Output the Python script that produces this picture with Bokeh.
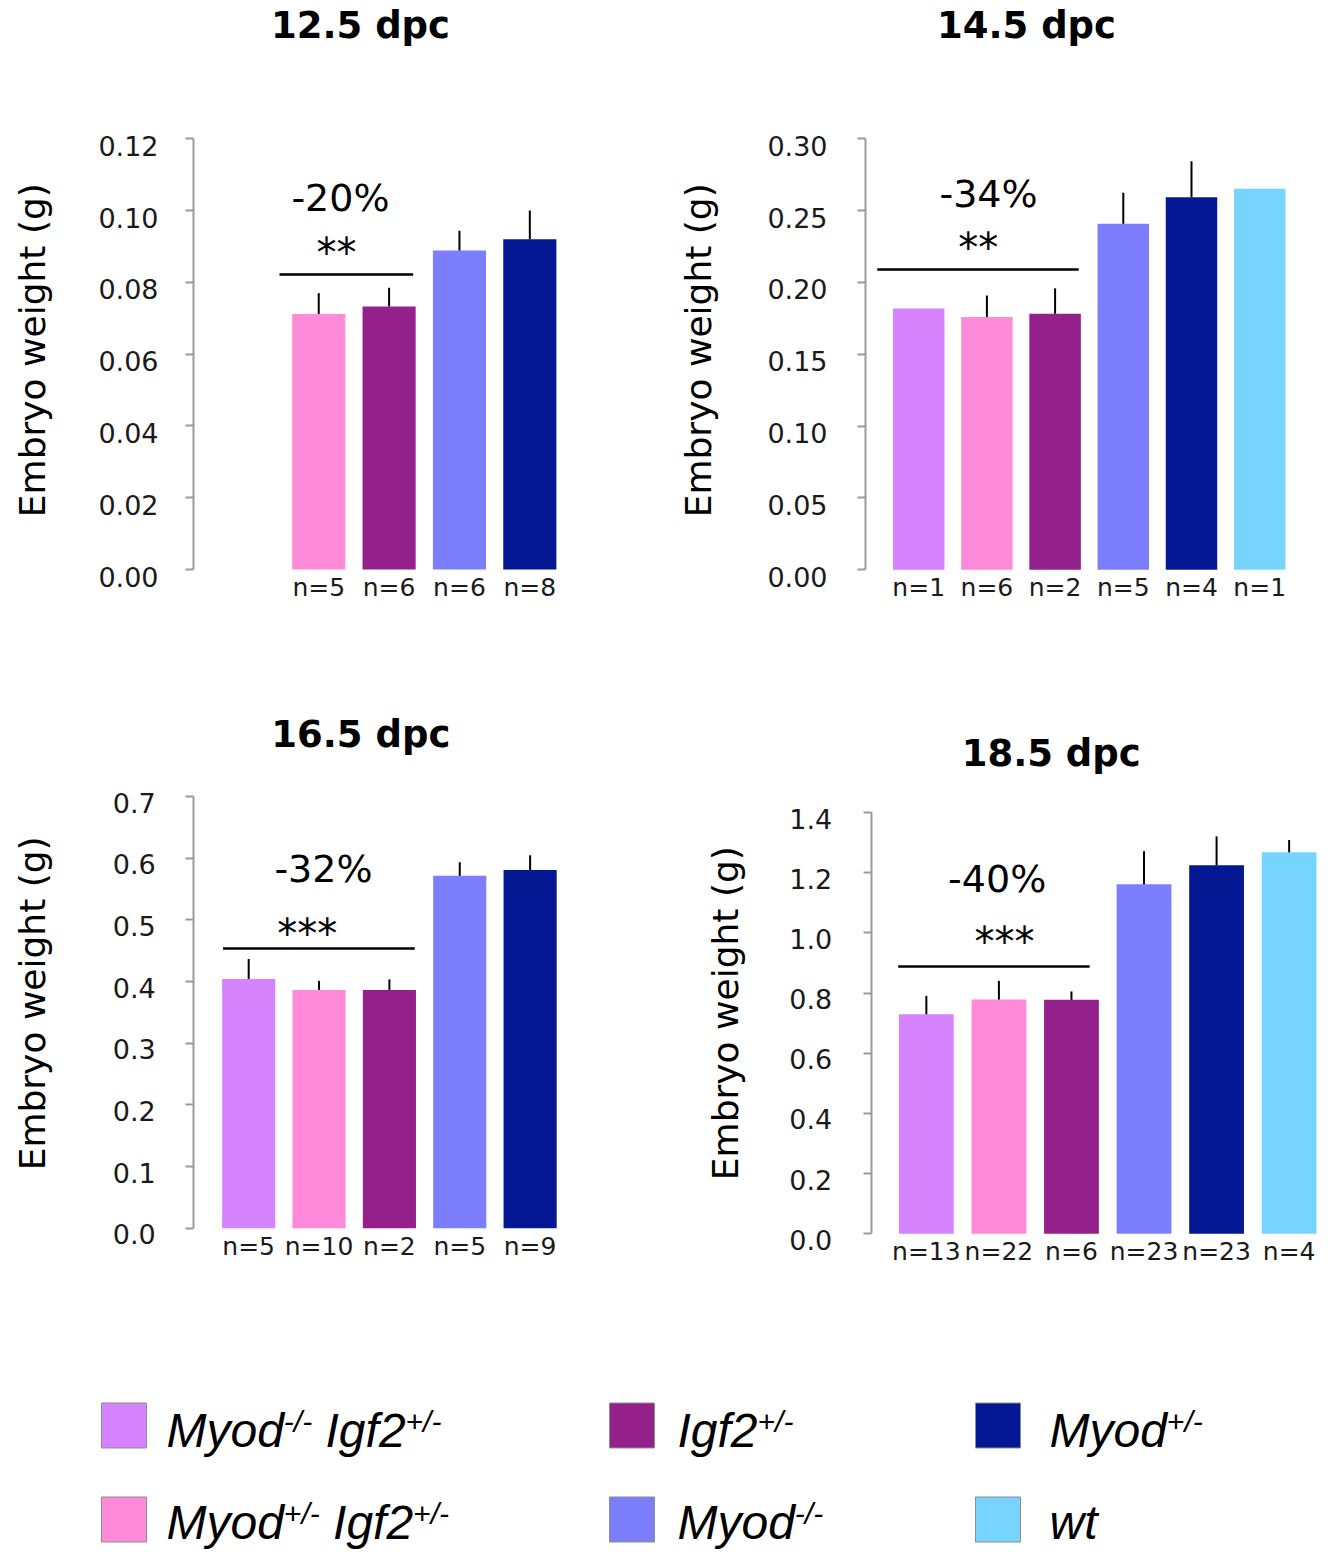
import math
import re
from bokeh.plotting import figure
from bokeh.models import ColumnDataSource, Range1d, LinearAxis, FixedTicker, Label, LabelSet
from bokeh.layouts import column, row
from bokeh.embed import file_html
from bokeh.resources import INLINE
from bokeh.core.properties import value

# ---------------- data ----------------
GENOTYPES = ["Myod-/- Igf2+/-", "Myod+/- Igf2+/-", "Igf2+/-", "Myod-/-", "Myod+/-", "wt"]
COLORS = ["#D584FE", "#FE8AD9", "#93208B", "#7C7EFE", "#041893", "#76D4FE"]
Y_LABEL = "Embryo weight (g)"

d125_title = "12.5 dpc"
d125_geno = [1, 2, 3, 4]
d125_mean = [0.0712, 0.0733, 0.0889, 0.0920]
d125_sem = [0.0058, 0.0052, 0.0055, 0.0080]
d125_n = ["n=5", "n=6", "n=6", "n=8"]
d125_ticks = [0.00, 0.02, 0.04, 0.06, 0.08, 0.10, 0.12]
d125_tick_labels = ["0.00", "0.02", "0.04", "0.06", "0.08", "0.10", "0.12"]
d125_pct = "-20%"
d125_sig = "**"

d145_title = "14.5 dpc"
d145_geno = [0, 1, 2, 3, 4, 5]
d145_mean = [0.1818, 0.1759, 0.1782, 0.2409, 0.2594, 0.2652]
d145_sem = [0.0, 0.0150, 0.0177, 0.0215, 0.0250, 0.0]
d145_n = ["n=1", "n=6", "n=2", "n=5", "n=4", "n=1"]
d145_ticks = [0.00, 0.05, 0.10, 0.15, 0.20, 0.25, 0.30]
d145_tick_labels = ["0.00", "0.05", "0.10", "0.15", "0.20", "0.25", "0.30"]
d145_pct = "-34%"
d145_sig = "**"

d165_title = "16.5 dpc"
d165_geno = [0, 1, 2, 3, 4]
d165_mean = [0.4042, 0.3864, 0.3864, 0.5714, 0.5807]
d165_sem = [0.0325, 0.0146, 0.0170, 0.0220, 0.0240]
d165_n = ["n=5", "n=10", "n=2", "n=5", "n=9"]
d165_ticks = [0.0, 0.1, 0.2, 0.3, 0.4, 0.5, 0.6, 0.7]
d165_tick_labels = ["0.0", "0.1", "0.2", "0.3", "0.4", "0.5", "0.6", "0.7"]
d165_pct = "-32%"
d165_sig = "***"

d185_title = "18.5 dpc"
d185_geno = [0, 1, 2, 3, 4, 5]
d185_mean = [0.7296, 0.7784, 0.7774, 1.1614, 1.2245, 1.2677]
d185_sem = [0.061, 0.062, 0.028, 0.110, 0.096, 0.041]
d185_n = ["n=13", "n=22", "n=6", "n=23", "n=23", "n=4"]
d185_ticks = [0.0, 0.2, 0.4, 0.6, 0.8, 1.0, 1.2, 1.4]
d185_tick_labels = ["0.0", "0.2", "0.4", "0.6", "0.8", "1.0", "1.2", "1.4"]
d185_pct = "-40%"
d185_sig = "***"

# ---------------- layout / style (pixels relative to each figure) ----------------
FONT = "DejaVu Sans"
LAY = {
    "A": dict(w=665, h=650, axis_px=193.0, x_axis=-0.78, slot=70.36, y0=569.0, ytop=138.3,
              tick_dx=-35, tick_dy=-7, ylab_dx=-161, ylab_dy=4, title_dx=167, title_dy=113,
              sig_line=(0.442, 2.342, 0.0822), pct_pos=(1.309, 0.1034), sig_pos=(1.253, 0.0908)),
    "B": dict(w=665, h=650, axis_px=200.0, x_axis=-0.78, slot=68.2, y0=569.3, ytop=138.3,
              tick_dx=-38, tick_dy=-7, ylab_dx=-167, ylab_dy=4, title_dx=161, title_dy=113,
              sig_line=(-0.608, 2.347, 0.209), pct_pos=(1.024, 0.2617), sig_pos=(0.872, 0.2304)),
    "C": dict(w=665, h=650, axis_px=193.3, x_axis=-0.78, slot=70.36, y0=577.7, ytop=146.0,
              tick_dx=-38, tick_dy=-6, ylab_dx=-161, ylab_dy=9, title_dx=167, title_dy=62,
              sig_line=(-0.364, 2.36, 0.4536), pct_pos=(1.063, 0.582), sig_pos=(0.832, 0.4922)),
    "D": dict(w=665, h=650, axis_px=205.7, x_axis=-0.76, slot=72.56, y0=583.3, ytop=162.0,
              tick_dx=-39, tick_dy=-6, ylab_dx=-146, ylab_dy=10, title_dx=180, title_dy=59,
              sig_line=(-0.388, 2.25, 0.888), pct_pos=(0.976, 1.1793), sig_pos=(1.076, 0.9993)),
}
STAR_SIZE = 40
STAR_DY = -9


def make_panel(lay, title, geno, mean, sem, nlab, ticks, tick_labels, pct, sig):
    ymin, ymax = ticks[0], ticks[-1]
    ppu = (lay["y0"] - lay["ytop"]) / (ymax - ymin)
    ys = ymin - (lay["h"] - lay["y0"]) / ppu
    ye = ymax + lay["ytop"] / ppu
    xa = lay["x_axis"]
    xs = xa - lay["axis_px"] / lay["slot"]
    xe = xs + lay["w"] / lay["slot"]

    p = figure(width=lay["w"], height=lay["h"], x_range=Range1d(xs, xe), y_range=Range1d(ys, ye),
               output_backend="svg", toolbar_location=None, x_axis_location=None, y_axis_location=None,
               min_border_left=0, min_border_right=0, min_border_top=0, min_border_bottom=0)
    p.outline_line_color = None
    p.background_fill_color = "white"
    p.border_fill_color = "white"
    p.grid.visible = False

    yax = LinearAxis(fixed_location=xa, ticker=FixedTicker(ticks=ticks), bounds=(ymin, ymax),
                     axis_line_color="#9b9b9b", axis_line_width=2,
                     major_tick_line_color="#9b9b9b", major_tick_line_width=2,
                     major_tick_out=8, major_tick_in=0, minor_tick_line_color=None,
                     major_label_text_color=None)
    p.add_layout(yax, "left")

    src = ColumnDataSource(dict(x=geno, top=mean, color=[COLORS[g] for g in geno]))
    p.vbar(x="x", top="top", width=0.755, bottom=0, fill_color="color", line_color=None, source=src)

    ex = [g for g, s in zip(geno, sem) if s > 0]
    ey0 = [m for m, s in zip(mean, sem) if s > 0]
    ey1 = [m + s for m, s in zip(mean, sem) if s > 0]
    p.segment(x0=ex, y0=ey0, x1=ex, y1=ey1, line_color="black", line_width=2)

    sx0, sx1, sy = lay["sig_line"]
    p.segment(x0=[sx0], y0=[sy], x1=[sx1], y1=[sy], line_color="black", line_width=2.5)

    p.add_layout(Label(x=lay["pct_pos"][0], y=lay["pct_pos"][1], text=pct, text_font=FONT,
                       text_font_size="38px", text_align="center", text_baseline="middle",
                       text_color="black"))
    p.add_layout(Label(x=lay["sig_pos"][0], y=lay["sig_pos"][1], y_offset=STAR_DY, text=sig,
                       text_font=FONT, text_font_size="%dpx" % STAR_SIZE, text_align="center",
                       text_baseline="middle", text_color="black"))
    # panel title
    p.add_layout(Label(x=xa, y=ymax, x_offset=lay["title_dx"], y_offset=lay["title_dy"], text=title,
                       text_font=FONT, text_font_size="37px", text_font_style="bold",
                       text_align="center", text_baseline="middle", text_color="black"))
    # y axis title
    p.add_layout(Label(x=xa, y=(ymin + ymax) / 2, x_offset=lay["ylab_dx"], y_offset=lay["ylab_dy"],
                       text=Y_LABEL, angle=math.pi / 2, text_font=FONT, text_font_size="36px",
                       text_align="center", text_baseline="middle", text_color="black"))
    # y tick labels
    tsrc = ColumnDataSource(dict(x=[xa] * len(ticks), y=ticks, text=tick_labels))
    p.add_layout(LabelSet(x="x", y="y", text="text", source=tsrc, x_offset=lay["tick_dx"],
                          y_offset=lay["tick_dy"], text_font=value(FONT), text_font_size="27px",
                          text_align="right", text_baseline="middle", text_color="#1a1a1a"))
    # sample sizes under bars
    nsrc = ColumnDataSource(dict(x=geno, y=[ymin] * len(geno), text=nlab))
    p.add_layout(LabelSet(x="x", y="y", text="text", source=nsrc, y_offset=-18,
                          text_font=value(FONT), text_font_size="25px", text_align="center",
                          text_baseline="middle", text_color="#1a1a1a"))
    return p


pA = make_panel(LAY["A"], d125_title, d125_geno, d125_mean, d125_sem, d125_n,
                d125_ticks, d125_tick_labels, d125_pct, d125_sig)
pB = make_panel(LAY["B"], d145_title, d145_geno, d145_mean, d145_sem, d145_n,
                d145_ticks, d145_tick_labels, d145_pct, d145_sig)
pC = make_panel(LAY["C"], d165_title, d165_geno, d165_mean, d165_sem, d165_n,
                d165_ticks, d165_tick_labels, d165_pct, d165_sig)
pD = make_panel(LAY["D"], d185_title, d185_geno, d185_mean, d185_sem, d185_n,
                d185_ticks, d185_tick_labels, d185_pct, d185_sig)

# ---------------- legend ----------------
LW, LH = 1330, 250
leg = figure(width=LW, height=LH, x_range=Range1d(0, LW), y_range=Range1d(LH, 0),
             output_backend="svg", toolbar_location=None, x_axis_location=None, y_axis_location=None,
             min_border_left=0, min_border_right=0, min_border_top=0, min_border_bottom=0)
leg.outline_line_color = None
leg.grid.visible = False

COL_X = [101, 609, 975]       # square left edge
TEXT_X = [166, 677, 1049]     # text start
ROW_Y = [125, 219]            # square centre
ROW_BASE = [147, 239]         # text baseline
SQ = 45
MAIN_SIZE = 48
SUP_SIZE = 30
SUP_RISE = 16
MID = 0.35                    # em-box middle above the baseline

AW = {"M": 833, "y": 500, "o": 556, "d": 556, "I": 278, "g": 556, "f": 278, "2": 556,
      "w": 722, "t": 278, " ": 278, "+": 584, "/": 278, "-": 333}


def tw(s, size):
    return sum(AW.get(c, 556) for c in s) * size / 1000.0


def segments(name):
    out = []
    for part in re.split(r"([+-]/[+-])", name):
        if part:
            out.append((part, bool(re.fullmatch(r"[+-]/[+-]", part))))
    return out


sq = dict(x=[], y=[], color=[])
main = dict(x=[], y=[], text=[])
sup = dict(x=[], y=[], text=[])
for i, name in enumerate(GENOTYPES):
    c, r = i // 2, i % 2
    sq["x"].append(COL_X[c] + SQ / 2)
    sq["y"].append(ROW_Y[r])
    sq["color"].append(COLORS[i])
    cx = TEXT_X[c]
    for txt, is_sup in segments(name):
        size = SUP_SIZE if is_sup else MAIN_SIZE
        lead = len(txt) - len(txt.lstrip(" "))
        cx += tw(" " * lead, size)
        txt = txt.strip(" ")
        target = sup if is_sup else main
        base = ROW_BASE[r] - (SUP_RISE if is_sup else 0)
        target["x"].append(cx)
        target["y"].append(base - MID * size)
        target["text"].append(txt)
        cx += tw(txt, size)

leg.rect(x="x", y="y", width=SQ, height=SQ, fill_color="color", line_color="#8c8c8c", line_width=1,
         source=ColumnDataSource(sq))
leg.text(x="x", y="y", text="text", source=ColumnDataSource(main), text_font=value("Liberation Sans"),
         text_font_style="italic", text_font_size="%dpx" % MAIN_SIZE, text_align="left",
         text_baseline="middle", text_color="black")
leg.text(x="x", y="y", text="text", source=ColumnDataSource(sup), text_font=value("Liberation Sans"),
         text_font_style="italic", text_font_size="%dpx" % SUP_SIZE, text_align="left",
         text_baseline="middle", text_color="black")

layout = column(row(pA, pB), row(pC, pD), leg)
open("out.html", "w").write(file_html(layout, INLINE))
